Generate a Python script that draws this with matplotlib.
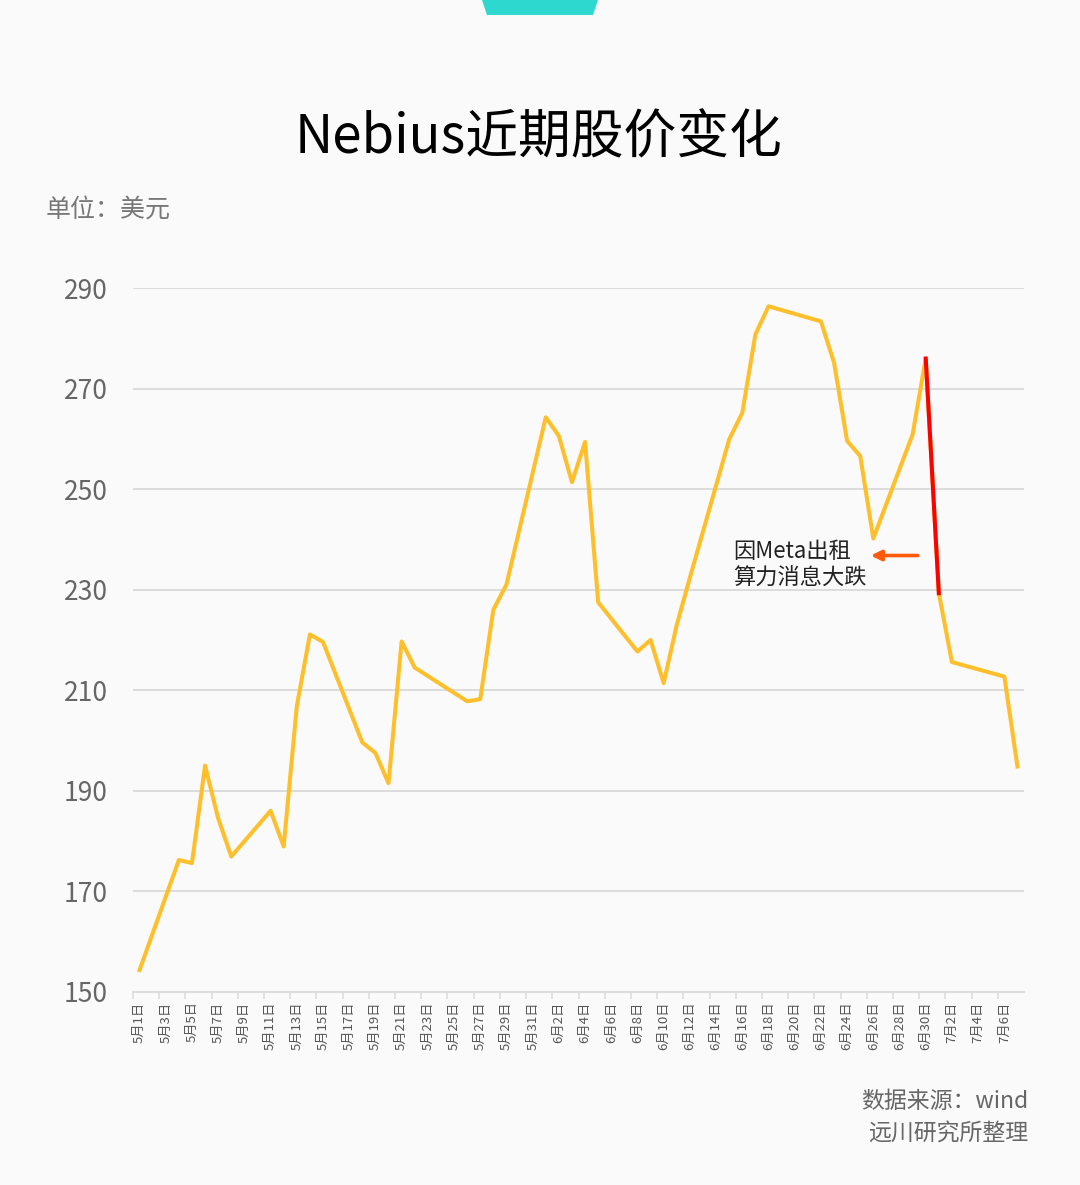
import pandas as pd
import matplotlib.pyplot as plt
from matplotlib.patches import Polygon

plt.rcParams['font.family'] = ['Noto Sans CJK SC', 'DejaVu Sans']

# dates as they sit on the chart's day axis, and closing prices (USD)
dates = ['5/1', '5/4', '5/5', '5/6', '5/7', '5/8', '5/11', '5/12', '5/13', '5/14',
         '5/15', '5/18', '5/19', '5/20', '5/21', '5/22', '5/26', '5/27', '5/28', '5/29',
         '6/1', '6/2', '6/3', '6/4', '6/5', '6/8', '6/9', '6/10', '6/11', '6/12',
         '6/15', '6/16', '6/17', '6/18', '6/22', '6/23', '6/24', '6/25', '6/26', '6/29',
         '6/30', '7/1', '7/2', '7/6', '7/7']
prices = [154.3, 176.2, 175.6, 195.0, 184.5, 176.9, 186.0, 178.9, 206.8, 221.1,
          219.6, 199.6, 197.5, 191.5, 219.7, 214.5, 207.8, 208.2, 226.0, 231.0,
          264.3, 260.6, 251.4, 259.4, 227.5, 217.7, 220.0, 211.4, 223.0, 232.4,
          259.9, 265.2, 280.8, 286.4, 283.4, 275.2, 259.6, 256.6, 240.2, 260.9,
          276.0, 229.3, 215.6, 212.7, 194.8]
drop_dates = ['6/30', '7/1']
yticks = [150, 170, 190, 210, 230, 250, 270, 290]
note = '因Meta出租\n算力消息大跌'

days = pd.date_range('2025-05-01', '2025-07-07', freq='D')
day_labels = [f'{d.month}月{d.day}日' for d in days]


def pos(s):
    m, d = s.split('/')
    return (pd.Timestamp(2025, int(m), int(d)) - days[0]).days


x = [pos(s) for s in dates]
W, H = 1080, 1185
bg = '#FAFAFA'

fig = plt.figure(figsize=(W / 100, H / 100), dpi=100, facecolor=bg)
ax = fig.add_axes([133 / W, 1 - 991.7 / H, (1024 - 133) / W, (991.7 - 288.2) / H])
ax.set_facecolor(bg)

for v in yticks[1:]:
    ax.axhline(v, color='#DCDCDC', lw=1.4, zorder=1)

ax.plot(x, prices, color='#FFBF2B', lw=2.9, solid_joinstyle='round', zorder=3)
i0 = dates.index(drop_dates[0])
i1 = dates.index(drop_dates[1])
ax.plot(x[i0:i1 + 1], prices[i0:i1 + 1], color='#FF0000', lw=2.9, zorder=4)

ax.set_xlim(-0.5, len(days) - 0.5)
ax.set_ylim(yticks[0], yticks[-1])
ax.set_yticks(yticks)
ax.set_yticklabels([str(v) for v in yticks], fontsize=19, color='#666666', fontweight='light')
ax.tick_params(axis='y', length=0, pad=18)

ax.set_xticks(range(0, len(days), 2))
ax.set_xticklabels(day_labels[::2], rotation=90, fontsize=9.5, color='#555555')
ax.set_xticks([i - 0.5 for i in range(0, len(days), 2)], minor=True)
ax.tick_params(axis='x', which='major', length=0, pad=7)
ax.tick_params(axis='x', which='minor', length=5, color='#DDDDDD', width=1.2)

for s in ['top', 'right', 'left']:
    ax.spines[s].set_visible(False)
ax.spines['bottom'].set_color('#DDDDDD')
ax.spines['bottom'].set_linewidth(1.5)

# annotation
ax.annotate('', xy=(55.6, 236.8), xytext=(59.6, 236.8),
            arrowprops=dict(arrowstyle='-|>', color='#FF5A0A', lw=2.6, mutation_scale=15),
            zorder=5)
ax.text(45.3, 235.0, note, fontsize=16, color='#222222', ha='left', va='center',
        linespacing=1.2, zorder=5)

# header / footer
fig.patches.append(Polygon([(482 / W, 1), (598 / W, 1), (593 / W, 1 - 15 / H), (487 / W, 1 - 15 / H)],
                           closed=True, transform=fig.transFigure, color='#2DD9CF', lw=0))
fig.text(538 / W, 1 - 138 / H, 'Nebius近期股价变化', fontsize=38, color='#000000',
         ha='center', va='center')
fig.text(46 / W, 1 - 210 / H, '单位：美元', fontsize=18, color='#777777', ha='left', va='center')
fig.text(1028 / W, 1 - 1101 / H, '数据来源：wind', fontsize=16.5, color='#666666',
         ha='right', va='center')
fig.text(1028 / W, 1 - 1134 / H, '远川研究所整理', fontsize=16.5, color='#666666',
         ha='right', va='center')

fig.savefig('out.png', dpi=100, facecolor=bg)
